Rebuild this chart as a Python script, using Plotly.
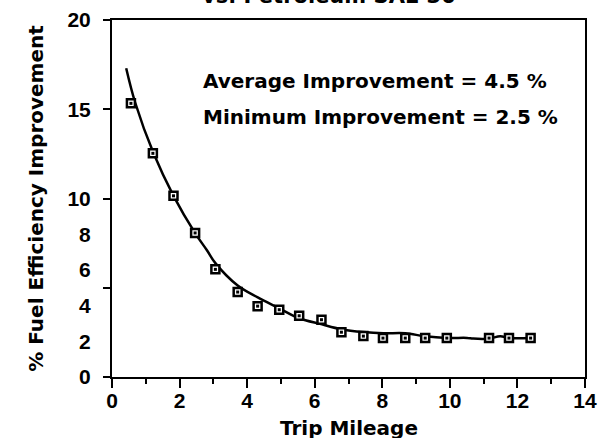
import plotly.graph_objects as go

# Measured data points (trip mileage, % fuel efficiency improvement)
mileage = [0.56, 1.21, 1.82, 2.46, 3.06, 3.72, 4.31, 4.95, 5.54, 6.20,
           6.79, 7.44, 8.02, 8.68, 9.27, 9.91, 11.16, 11.75, 12.39]
improvement = [15.33, 12.53, 10.15, 8.07, 6.03, 4.76, 3.97, 3.77, 3.43, 3.21,
               2.51, 2.29, 2.18, 2.18, 2.18, 2.18, 2.18, 2.18, 2.18]

# Fitted curve
curve_x = [0.42, 0.69, 1.23, 1.82, 2.46, 2.81, 3.06, 3.71, 4.30, 4.95, 5.54,
           6.19, 6.78, 7.44, 8.03, 8.68, 9.27, 9.92, 10.51, 10.69, 11.16,
           11.49, 11.75, 12.40]
curve_y = [17.3, 15.35, 12.53, 10.15, 8.06, 7.1, 6.38, 5.14, 4.47, 3.85, 3.29,
           2.96, 2.68, 2.52, 2.45, 2.45, 2.28, 2.19, 2.19, 2.15, 2.15,
           2.28, 2.19, 2.19]

y_tick_labels = [0, 2, 4, 6, 8, 10, 15, 20]
y_tick_marks = [0, 5, 10, 15, 20]
x_tick_labels = [0, 2, 4, 6, 8, 10, 12, 14]

NUM_FONT = "Liberation Sans, Arial, sans-serif"
TXT_FONT = "DejaVu Sans, sans-serif"

fig = go.Figure()
fig.add_trace(go.Scatter(x=curve_x, y=curve_y, mode="lines",
                         line=dict(color="black", width=2.5, shape="spline", smoothing=1.0),
                         showlegend=False, hoverinfo="skip"))
fig.add_trace(go.Scatter(x=mileage, y=improvement, mode="markers",
                         marker=dict(symbol="square", size=8, color="white",
                                     line=dict(color="black", width=2.5)),
                         showlegend=False, hoverinfo="skip"))
fig.add_trace(go.Scatter(x=mileage, y=improvement, mode="markers",
                         marker=dict(symbol="square", size=3, color="black",
                                     line=dict(width=0)),
                         showlegend=False))
# dummy trace to show the tick-mark axis
fig.add_trace(go.Scatter(x=[None], y=[None], yaxis="y2", showlegend=False,
                         hoverinfo="skip"))

fig.update_layout(
    width=600, height=438,
    margin=dict(l=112, r=15, t=20, b=61),
    paper_bgcolor="white", plot_bgcolor="white",
    font=dict(family=NUM_FONT, color="black"),
    xaxis=dict(range=[0, 14], tickvals=x_tick_labels, ticks="outside", ticklen=9,
               tickwidth=2, tickcolor="black", ticklabelstandoff=-5,
               minor=dict(dtick=1, ticks="outside", ticklen=5, tickwidth=2, tickcolor="black"),
               showline=True, linewidth=2, linecolor="black", mirror=True,
               showgrid=False, zeroline=False, automargin=False,
               tickfont=dict(size=21, family=NUM_FONT, weight="bold")),
    yaxis=dict(range=[0, 20], tickvals=y_tick_labels, ticks="outside", ticklen=15,
               tickcolor="rgba(0,0,0,0)",
               showline=True, linewidth=2, linecolor="black", mirror=True,
               showgrid=False, zeroline=False, automargin=False,
               tickfont=dict(size=21, family=NUM_FONT, weight="bold"),
               title=dict(text="<b>% Fuel Efficiency Improvement</b>",
                          font=dict(size=20, family=TXT_FONT), standoff=18)),
    yaxis2=dict(range=[0, 20], overlaying="y", side="left", tickvals=y_tick_marks,
                ticks="outside", ticklen=8, tickwidth=2, tickcolor="black",
                showticklabels=False, showline=False, showgrid=False, zeroline=False,
                automargin=False),
    annotations=[
        dict(text="<b>Average Improvement = 4.5 %</b>", xref="paper", yref="paper",
             x=0.189, y=0.829, xanchor="left", yanchor="middle", showarrow=False,
             font=dict(size=20, family=TXT_FONT)),
        dict(text="<b>Minimum Improvement = 2.5 %</b>", xref="paper", yref="paper",
             x=0.189, y=0.728, xanchor="left", yanchor="middle", showarrow=False,
             font=dict(size=20, family=TXT_FONT)),
        dict(text="<b>Trip Mileage</b>", xref="paper", yref="paper",
             x=0.5, y=-0.143, xanchor="center", yanchor="middle", showarrow=False,
             font=dict(size=20, family=TXT_FONT)),
        dict(text="<b>vs. Petroleum SAE 30</b>", xref="paper", yref="paper",
             x=0.459, y=1, xanchor="center", yanchor="bottom", yshift=10,
             showarrow=False, font=dict(size=21, family=TXT_FONT)),
    ],
)

fig.write_html("out.html", config={"displayModeBar": False},
               post_script="document.body.style.margin='0';")
